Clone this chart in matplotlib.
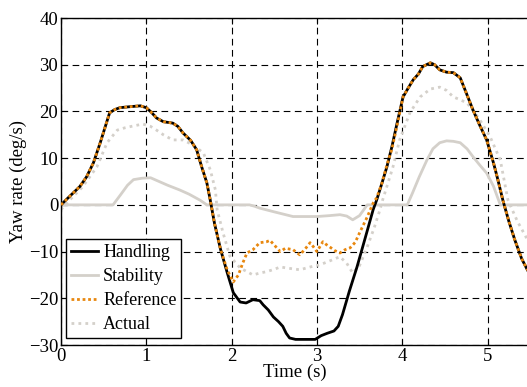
import matplotlib
matplotlib.use("Agg")
import matplotlib.pyplot as plt

# Yaw-rate traces (time in s, yaw rate in deg/s)
t_handling = [0.0, 0.1, 0.22, 0.3, 0.38, 0.46, 0.52, 0.57, 0.63, 0.69, 0.8, 0.93, 1.0, 1.06, 1.12, 1.2,
              1.31, 1.37, 1.43, 1.52, 1.59, 1.65, 1.71, 1.75, 1.8, 1.87, 1.95, 2.02, 2.1, 2.17, 2.25,
              2.33, 2.37, 2.43, 2.49, 2.55, 2.6, 2.64, 2.68, 2.75, 2.85, 2.98, 3.05, 3.12, 3.2, 3.25,
              3.3, 3.38, 3.47, 3.56, 3.66, 3.7, 3.76, 3.82, 3.88, 3.94, 4.01, 4.07, 4.13, 4.19, 4.24,
              4.33, 4.38, 4.44, 4.52, 4.6, 4.68, 4.75, 4.83, 4.91, 4.99, 5.07, 5.12, 5.18, 5.25, 5.32,
              5.4, 5.47]
handling = [0.0, 1.8, 3.9, 6.0, 9.0, 13.3, 16.8, 19.7, 20.4, 20.8, 21.0, 21.2, 20.8, 19.8, 18.6, 17.8,
            17.5, 16.8, 15.4, 13.8, 11.8, 8.1, 4.7, 1.0, -4.0, -9.5, -14.6, -18.8, -20.8, -21.0, -20.3,
            -20.5, -21.4, -22.5, -24.0, -25.0, -26.0, -27.5, -28.5, -28.8, -28.8, -28.8, -28.0, -27.5,
            -27.0, -26.0, -23.5, -18.5, -13.3, -7.5, -1.0, 1.0, 4.5, 8.1, 12.5, 17.5, 23.1, 25.0, 26.8,
            28.0, 29.6, 30.4, 30.0, 28.9, 28.4, 28.3, 27.2, 24.0, 20.3, 17.0, 13.9, 9.0, 5.5, 1.0,
            -3.5, -7.5, -11.5, -14.0]

t_stability = [0.0, 0.61, 0.7, 0.78, 0.85, 0.95, 1.05, 1.15, 1.25, 1.39, 1.5, 1.63, 1.71, 2.21, 2.27,
               2.33, 2.5, 2.72, 3.0, 3.15, 3.27, 3.35, 3.42, 3.5, 3.59, 4.06, 4.12, 4.2, 4.29, 4.36,
               4.44, 4.52, 4.6, 4.68, 4.76, 4.83, 4.91, 4.99, 5.07, 5.15, 5.47]
stability = [0.0, 0.0, 2.2, 4.2, 5.4, 5.7, 5.8, 5.0, 4.2, 3.2, 2.3, 1.0, 0.0, 0.0, -0.3, -0.7, -1.5,
             -2.5, -2.5, -2.3, -2.1, -2.4, -3.2, -2.3, 0.0, 0.0, 2.5, 6.0, 9.6, 12.0, 13.3, 13.7, 13.6,
             13.3, 12.0, 10.3, 8.5, 6.8, 4.0, 0.0, 0.0]

t_reference = [0.0, 0.1, 0.22, 0.3, 0.38, 0.46, 0.52, 0.57, 0.63, 0.69, 0.8, 0.93, 1.0, 1.06, 1.12,
               1.2, 1.31, 1.37, 1.43, 1.52, 1.59, 1.65, 1.71, 1.75, 1.8, 1.87, 1.95, 2.02, 2.08,
               2.13, 2.18, 2.25, 2.33, 2.41, 2.45, 2.51, 2.57, 2.63, 2.72, 2.8, 2.86, 2.92, 2.96,
               3.0, 3.07, 3.11, 3.15, 3.21, 3.27, 3.33, 3.39, 3.45, 3.5, 3.59, 3.66, 3.7, 3.76,
               3.82, 3.88, 3.94, 4.01, 4.07, 4.13, 4.19, 4.24, 4.33, 4.38, 4.44, 4.52, 4.6, 4.68,
               4.75, 4.83, 4.91, 4.99, 5.07, 5.12, 5.18, 5.25, 5.32, 5.4, 5.47]
reference = [0.0, 1.8, 3.9, 6.0, 9.0, 13.3, 16.8, 19.7, 20.4, 20.8, 21.0, 21.2, 20.8, 19.8, 18.6, 17.8,
             17.5, 16.8, 15.4, 13.8, 11.8, 8.1, 4.7, 1.0, -4.0, -9.5, -14.0, -16.5, -15.0, -12.5,
             -10.3, -9.6, -8.1, -7.9, -7.6, -8.8, -10.0, -9.3, -9.6, -10.7, -9.5, -8.1, -9.0, -10.0,
             -7.9, -8.5, -9.0, -9.8, -10.3, -9.6, -9.2, -8.0, -6.0, -2.6, 0.4, 1.5, 4.5, 8.5, 12.0,
             17.0, 23.1, 25.0, 26.8, 28.0, 29.6, 30.4, 30.0, 28.9, 28.4, 28.3, 27.2, 24.0, 20.3, 17.0,
             13.9, 9.0, 5.5, 1.0, -3.5, -7.5, -11.5, -14.0]

t_actual = [0.0, 0.1, 0.25, 0.42, 0.54, 0.66, 0.75, 0.85, 0.96, 1.05, 1.12, 1.2, 1.31, 1.43, 1.55,
            1.67, 1.75, 1.81, 1.83, 1.9, 1.98, 2.1, 2.25, 2.33, 2.41, 2.5, 2.57, 2.68, 2.8, 2.92,
            3.04, 3.15, 3.27, 3.35, 3.42, 3.5, 3.59, 3.67, 3.74, 3.77, 3.89, 3.97, 4.09, 4.21,
            4.33, 4.44, 4.52, 4.6, 4.68, 4.76, 4.84, 4.91, 5.03, 5.15, 5.24, 5.35, 5.47]
actual = [-1.0, 1.0, 3.8, 8.1, 13.3, 16.0, 16.5, 16.9, 17.3, 16.8, 16.0, 15.0, 13.9, 13.9, 12.8,
          11.1, 7.5, 3.2, -1.0, -6.0, -11.0, -13.5, -15.0, -14.6, -14.3, -13.8, -13.3, -13.6, -13.9,
          -13.3, -12.8, -12.0, -11.1, -12.5, -14.6, -13.0, -9.0, -5.0, -1.0, 1.0, 8.0, 13.9, 19.7,
          23.1, 24.8, 25.2, 24.5, 23.1, 22.5, 21.8, 20.0, 18.2, 14.6, 9.6, 1.0, -3.5, -7.5]

plt.rcParams["font.family"] = ["Liberation Serif", "DejaVu Serif"]
plt.rcParams["font.size"] = 13.5

fig = plt.figure(figsize=(5.27, 3.87), dpi=100)
ax = fig.add_axes([61 / 527, 1 - 345 / 387, (528 - 61) / 527, (345 - 18) / 387])

gray = "#d4d0ca"
orange = "#e8870e"
ax.plot(t_handling, handling, color="black", lw=2.0, label="Handling", zorder=3)
ax.plot(t_stability, stability, color=gray, lw=2.0, label="Stability", zorder=2)
ax.plot(t_reference, reference, color=orange, lw=2.0, ls=(0, (1, 1)), label="Reference", zorder=4)
ax.plot(t_actual, actual, color=gray, lw=2.0, ls=(0, (1, 1.5)), label="Actual", zorder=2)

ax.set_xlim(0, (528 - 61) / 85.3)
ax.set_ylim(-30, 40)
ax.set_xticks([0, 1, 2, 3, 4, 5])
ax.set_yticks([-30, -20, -10, 0, 10, 20, 30, 40])
ax.grid(True, color="black", ls=(0, (6, 4)), lw=0.8)
ax.tick_params(direction="in", top=True, right=False, length=4, pad=2, labelsize=13.5)
ax.spines["right"].set_visible(False)
for s in ("left", "top", "bottom"):
    ax.spines[s].set_linewidth(1.0)

ax.set_xlabel("Time (s)", labelpad=-1)
ax.set_ylabel("Yaw rate (deg/s)", labelpad=1)

leg = ax.legend(loc="lower left", bbox_to_anchor=(5 / 466, 7 / 327), fancybox=False,
                edgecolor="black", framealpha=1, fontsize=13, borderpad=0.25,
                labelspacing=0.4, handlelength=1.5, handletextpad=0.3, borderaxespad=0)
leg.get_frame().set_linewidth(1.0)

fig.savefig("out.png", dpi=100)
